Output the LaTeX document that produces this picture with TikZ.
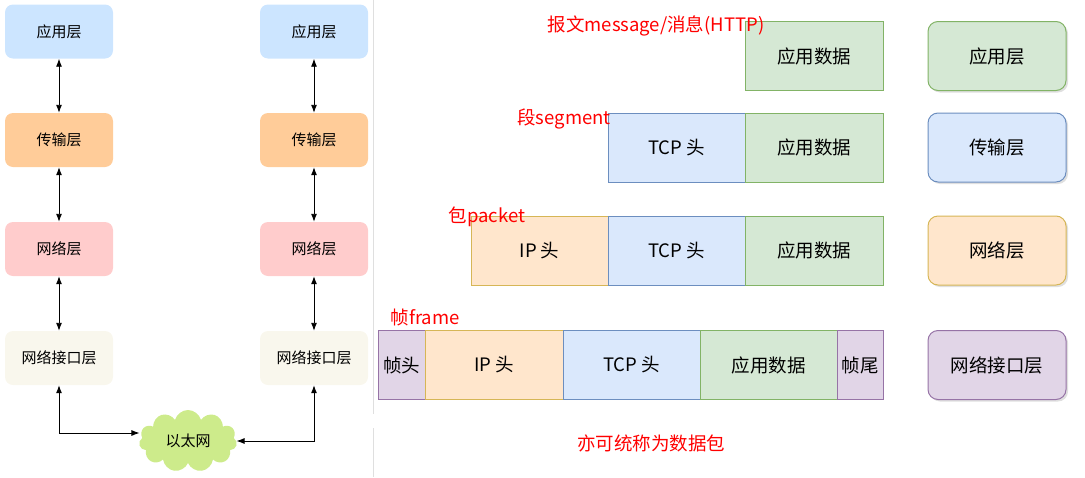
\documentclass[tikz,border=0pt]{standalone}
\usepackage{fontspec}
\setmainfont{Noto Sans CJK SC}
\usetikzlibrary{shapes.symbols,shadows,arrows.meta}

\definecolor{appblue}{HTML}{CCE5FF}
\definecolor{transorange}{HTML}{FFCC99}
\definecolor{netpink}{HTML}{FFCCCC}
\definecolor{linkcream}{HTML}{F9F7ED}
\definecolor{ethgreen}{HTML}{CDEB8B}
\definecolor{greenfill}{HTML}{D5E8D4}
\definecolor{greenline}{HTML}{82B366}
\definecolor{bluefill}{HTML}{DAE8FC}
\definecolor{blueline}{HTML}{6C8EBF}
\definecolor{orangefill}{HTML}{FFE6CC}
\definecolor{orangeline}{HTML}{D6B656}
\definecolor{purplefill}{HTML}{E1D5E7}
\definecolor{purpleline}{HTML}{9673A6}

\begin{document}
\begin{tikzpicture}[
	x=1pt, y=-1pt,
	layer/.style={
		rectangle,
		rounded corners=8pt,
		minimum width=108pt,
		minimum height=54pt,
		inner sep=0pt,
		font=\fontsize{15}{17}\selectfont,
	},
	field/.style={
		rectangle,
		draw,
		minimum height=69pt,
		inner sep=0pt,
		font=\fontsize{18.5}{21}\selectfont,
	},
	stack/.style={
		rectangle,
		rounded corners=10pt,
		draw,
		line width=1pt,
		minimum width=138pt,
		minimum height=69pt,
		inner sep=0pt,
		drop shadow={opacity=0.25, shadow xshift=2pt, shadow yshift=-2pt},
		font=\fontsize{18.5}{21}\selectfont,
	},
	tag/.style={% red unit names
		text=red,
		inner sep=0pt,
		font=\fontsize{18.5}{21}\selectfont,
	},
	ArrowC1/.style={% double-headed links
		{Latex[length=8pt,width=6pt]}-{Latex[length=8pt,width=6pt]},
		line width=0.9pt,
	},
]
	\useasboundingbox (0,0) rectangle (1085,477);
	\draw [gray!25, line width=1pt] (373,0) -- (373,414);
	\draw [gray!25, line width=1pt] (373,428) -- (373,477);

	% two protocol stacks
	\node [layer, fill=appblue] (app1) at (59,31.5) {应用层};
	\node [layer, fill=transorange] (trans1) at (59,140) {传输层};
	\node [layer, fill=netpink] (net1) at (59,249) {网络层};
	\node [layer, fill=linkcream] (link1) at (59,358) {网络接口层};
	\node [layer, fill=appblue] (app2) at (314,31.5) {应用层};
	\node [layer, fill=transorange] (trans2) at (314,140) {传输层};
	\node [layer, fill=netpink] (net2) at (314,249) {网络层};
	\node [layer, fill=linkcream] (link2) at (314,358) {网络接口层};
	\node [cloud, cloud puffs=11, aspect=1.6, fill=ethgreen, minimum width=98pt, minimum height=62pt, inner sep=0pt, font=\fontsize{15}{17}\selectfont] (eth) at (188,441) {以太网};

	\draw [ArrowC1] (app1) -- (trans1);
	\draw [ArrowC1] (trans1) -- (net1);
	\draw [ArrowC1] (net1) -- (link1);
	\draw [ArrowC1] (app2) -- (trans2);
	\draw [ArrowC1] (trans2) -- (net2);
	\draw [ArrowC1] (net2) -- (link2);
	\draw [ArrowC1] (link1.south) |- ([yshift=8pt]eth.west);
	\draw [ArrowC1] (link2.south) |- (eth.east);

	% encapsulation per layer
	\node [field, fill=greenfill, draw=greenline, minimum width=138pt] (data1) at (814,56) {应用数据};
	\node [stack, fill=greenfill, draw=greenline] (appstack) at (997,56) {应用层};
	\node [tag] (msgtag) at (656,26) {报文message/消息(HTTP)};

	\node [field, fill=bluefill, draw=blueline, minimum width=137pt] (tcp2) at (676.5,147.5) {TCP 头};
	\node [field, fill=greenfill, draw=greenline, minimum width=138pt] (data2) at (814,147.5) {应用数据};
	\node [stack, fill=bluefill, draw=blueline] (transstack) at (997,147.5) {传输层};
	\node [tag] (segtag) at (564,119) {段segment};

	\node [field, fill=orangefill, draw=orangeline, minimum width=137pt] (ip3) at (539.5,250.5) {IP 头};
	\node [field, fill=bluefill, draw=blueline, minimum width=137pt] (tcp3) at (676.5,250.5) {TCP 头};
	\node [field, fill=greenfill, draw=greenline, minimum width=138pt] (data3) at (814,250.5) {应用数据};
	\node [stack, fill=orangefill, draw=orangeline] (netstack) at (997,250.5) {网络层};
	\node [tag] (pkttag) at (487,217) {包packet};

	\node [field, fill=purplefill, draw=purpleline, minimum width=47pt] (fhead) at (401.5,365) {帧头};
	\node [field, fill=orangefill, draw=orangeline, minimum width=138pt] (ip4) at (494,365) {IP 头};
	\node [field, fill=bluefill, draw=blueline, minimum width=137pt] (tcp4) at (631.5,365) {TCP 头};
	\node [field, fill=greenfill, draw=greenline, minimum width=137pt] (data4) at (768.5,365) {应用数据};
	\node [field, fill=purplefill, draw=purpleline, minimum width=46pt] (ftail) at (860,365) {帧尾};
	\node [stack, fill=purplefill, draw=purpleline] (linkstack) at (997,365) {网络接口层};
	\node [tag] (frametag) at (425,317) {帧frame};

	\node [tag] (alltag) at (651,443) {亦可统称为数据包};
\end{tikzpicture}
\end{document}
